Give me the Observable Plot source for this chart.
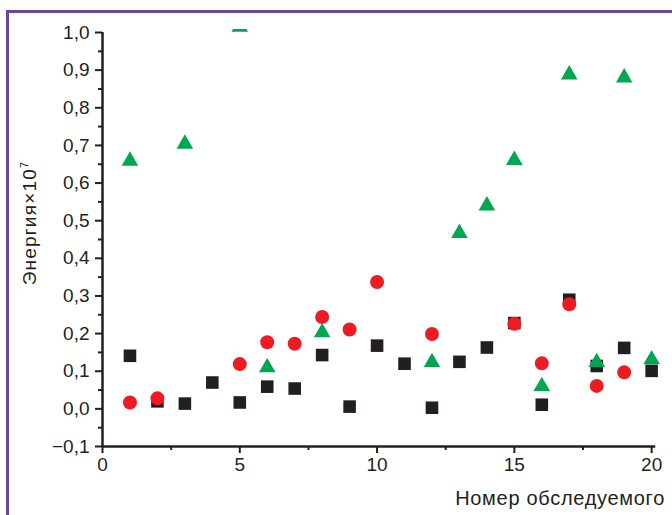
<!DOCTYPE html>
<html>
<head>
<meta charset="utf-8">
<script src="https://cdn.jsdelivr.net/npm/d3@7"></script>
<script src="https://cdn.jsdelivr.net/npm/@observablehq/plot@0.6"></script>
<style>
  html, body { margin: 0; padding: 0; background: #fff; width: 672px; height: 515px; overflow: hidden; }
  #frame { position: absolute; left: 6px; top: 10px; width: 720px; height: 560px;
           border-left: 3px solid #6c44a3; border-top: 3px solid #6c44a3; box-sizing: border-box; }
  #chart { position: absolute; left: 0; top: 0; }
</style>
</head>
<body>
<div id="frame"></div>
<div id="chart"></div>
<script>
// Subject numbers (x)
const subjects = [1, 2, 3, 4, 5, 6, 7, 8, 9, 10, 11, 12, 13, 14, 15, 16, 17, 18, 19, 20];
// Black squares
const squareValues = [0.141, 0.02, 0.014, 0.07, 0.017, 0.059, 0.054, 0.143, 0.006, 0.168,
                      0.12, 0.003, 0.125, 0.163, 0.228, 0.011, 0.29, 0.114, 0.162, 0.101];
// Red circles
const circleValues = [0.017, 0.028, null, null, 0.119, 0.177, 0.173, 0.244, 0.211, 0.337,
                      null, 0.199, null, null, 0.226, 0.121, 0.278, 0.061, 0.097, null];
// Green triangles (x = 5 lies above the axis top and is clipped)
const triangleValues = [0.659, null, 0.704, null, 1.015, 0.11, null, 0.203, null, null,
                        null, 0.124, 0.467, 0.54, 0.661, 0.06, 0.888, 0.124, 0.88, 0.131];

const yMajor = [-0.1, 0.0, 0.1, 0.2, 0.3, 0.4, 0.5, 0.6, 0.7, 0.8, 0.9, 1.0];
const yMinor = [-0.05, 0.05, 0.15, 0.25, 0.35, 0.45, 0.55, 0.65, 0.75, 0.85, 0.95];
const xMajor = [0, 5, 10, 15, 20];
const xMinor = [2.5, 7.5, 12.5, 17.5];
const yAxisRange = [-0.1, 1.0];
const xAxisRange = [0, 20.15];

const xLabel = "Номер обследуемого";
const yLabelMain = "Энергия×10";
const yLabelSup = "7";

const colors = { square: "#231f20", circle: "#ed1c24", triangle: "#00a651" };

const toRows = (vals) => subjects.map((s, i) => ({ x: s, y: vals[i] })).filter(d => d.y != null);
const squares = toRows(squareValues);
const circles = toRows(circleValues);
const triangles = toRows(triangleValues);

const fmt = d => d.toFixed(1).replace(".", ",").replace("-", "\u2212");

const chart = Plot.plot({
  width: 672,
  height: 515,
  marginLeft: 102,
  marginRight: 0,
  marginTop: 29,
  marginBottom: 69,
  x: { domain: [0, 20.76] },
  y: { domain: [-0.1, 1.008] },
  style: { fontFamily: "Arial, 'Liberation Sans', sans-serif", fontSize: "19px", color: "#231f20", background: "transparent", overflow: "visible" },
  marks: [
    Plot.axisY(yMajor, { tickSize: 7, tickPadding: 6, tickFormat: fmt, strokeWidth: 2, label: null, fontSize: 19 }),
    Plot.axisY(yMinor, { tickSize: 4, tickFormat: () => "", strokeWidth: 2, label: null }),
    Plot.axisX(xMajor, { tickSize: 7, tickPadding: 4, tickFormat: d => String(d), strokeWidth: 2, label: null, fontSize: 19 }),
    Plot.axisX(xMinor, { tickSize: 4, tickFormat: () => "", strokeWidth: 2, label: null }),
    Plot.ruleX([0], { y1: yAxisRange[0], y2: yAxisRange[1], stroke: "#231f20", strokeWidth: 2.5 }),
    Plot.ruleY([-0.1], { x1: xAxisRange[0], x2: xAxisRange[1], stroke: "#231f20", strokeWidth: 2.5 }),
    Plot.dot(squares, { x: "x", y: "y", symbol: "square", r: 7.1, fill: colors.square, clip: true }),
    Plot.dot(circles, { x: "x", y: "y", symbol: "circle", r: 7, fill: colors.circle, clip: true }),
    Plot.dot(triangles, { x: "x", y: "y", symbol: "triangle", r: 6.15, fill: colors.triangle, clip: true })
  ]
});

const svg = d3.select(chart);
svg.append("text")
  .attr("x", 665).attr("y", 505)
  .attr("text-anchor", "end")
  .attr("font-size", 20)
  .attr("letter-spacing", "0.7px")
  .attr("fill", "#231f20")
  .text(xLabel);

const yl = svg.append("text")
  .attr("transform", "translate(36,223) rotate(-90)")
  .attr("text-anchor", "middle")
  .attr("font-size", 19)
  .attr("letter-spacing", "1.2px")
  .attr("fill", "#231f20");
yl.append("tspan").text(yLabelMain);
yl.append("tspan").attr("font-size", 11).attr("dy", -8).text(yLabelSup);

document.getElementById("chart").appendChild(chart);
</script>
</body>
</html>
